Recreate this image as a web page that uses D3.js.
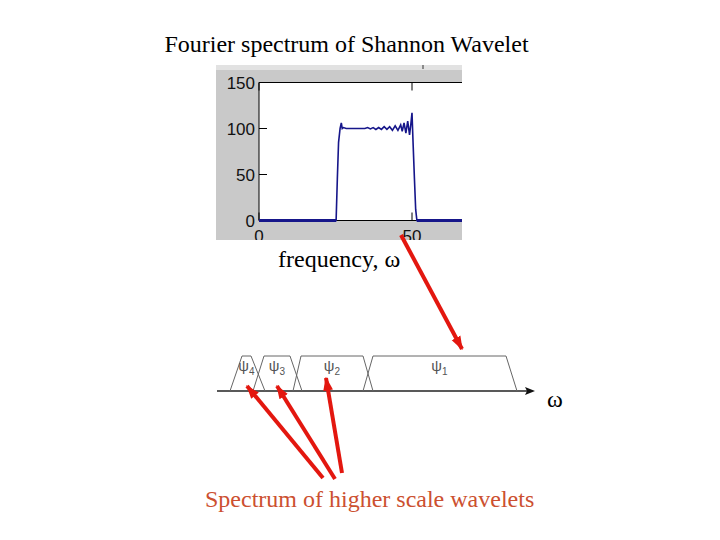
<!DOCTYPE html>
<html>
<head>
<meta charset="utf-8">
<script src="https://cdn.jsdelivr.net/npm/d3@7"></script>
<style>
  body { margin: 0; background: #fff; }
  svg { display: block; }
</style>
</head>
<body>
<svg width="720" height="540"></svg>
<script>
// spectrum
var freq = [0, 25.2, 25.6, 26.0, 26.5, 26.9, 27.2, 27.6, 28.5, 30, 32, 34, 34.6, 35.5, 36.4, 37.3, 38.2, 39.1, 40.0, 40.9, 41.8, 42.7, 43.6, 44.5, 45.4, 46.3, 46.8, 47.4, 48.0, 48.6, 49.2, 49.6, 50.0, 50.4, 50.8, 51.2, 51.6, 67];
var mag = [0, 0, 45, 85, 100, 106, 100, 101, 100, 100, 100, 100, 100, 101, 99.5, 101, 99, 101, 99, 102, 99, 102, 98, 103, 98, 104, 97, 106, 95, 108, 93, 104, 117, 80, 45, 12, 0, 0];
var yTicks = [0, 50, 100, 150];
var xTicks = [0, 50];

// wavelet bands on the omega axis (arbitrary units 0..318)
var bandNames = ["4", "3", "2", "1"];
var bandBottomL = [13, 36, 76, 146];
var bandTopL = [25, 47, 84, 156];
var bandTopR = [34, 73, 146, 289];
var bandBottomR = [48, 85, 156, 300];

var svg = d3.select('svg');
var serif = "'Liberation Serif', 'Times New Roman', serif";
var sans = "'Liberation Sans', Arial, sans-serif";
var red = "#e3170f";

svg.append("text")
    .attr("x", 346.5).attr("y", 52)
    .attr("text-anchor", "middle")
    .style("font-family", serif).style("font-size", "24px")
    .text("Fourier spectrum of Shannon Wavelet");

// ---- matlab screenshot ----
var fig = svg.append("g");
fig.append("clipPath").attr("id", "figclip")
    .append("rect").attr("x", 216).attr("y", 65).attr("width", 246).attr("height", 175);
var g = fig.append("g").attr("clip-path", "url(#figclip)");
g.append("rect").attr("x", 216).attr("y", 65).attr("width", 246).attr("height", 175).style("fill", "#c9c9c9");
g.append("rect").attr("x", 216).attr("y", 65).attr("width", 246).attr("height", 5).style("fill", "#e2e2e2");
g.append("line").attr("x1", 423).attr("x2", 423).attr("y1", 65).attr("y2", 69).style("stroke", "#333");

var x = d3.scaleLinear().domain([0, 50]).range([259, 412]);
var y = d3.scaleLinear().domain([0, 150]).range([220.5, 82.5]);

g.append("rect").attr("x", x(0)).attr("y", y(150)).attr("width", 470 - x(0)).attr("height", y(0) - y(150)).style("fill", "#fff");
g.append("line").attr("x1", x(0)).attr("x2", 470).attr("y1", y(150)).attr("y2", y(150)).style("stroke", "#000");
g.append("line").attr("x1", x(0)).attr("x2", x(0)).attr("y1", y(150)).attr("y2", y(0)).style("stroke", "#000");
g.append("line").attr("x1", x(0)).attr("x2", 470).attr("y1", y(0)).attr("y2", y(0)).style("stroke", "#000");

yTicks.forEach(function(t) {
    g.append("line").attr("x1", x(0)).attr("x2", x(0) + 8).attr("y1", y(t)).attr("y2", y(t)).style("stroke", "#000");
    g.append("text").attr("x", x(0) - 4).attr("y", y(t) + 6)
        .attr("text-anchor", "end")
        .style("font-family", sans).style("font-size", "17px").style("fill", "#111")
        .text(t);
});
xTicks.forEach(function(t) {
    g.append("line").attr("x1", x(t)).attr("x2", x(t)).attr("y1", y(150)).attr("y2", y(150) + 8).style("stroke", "#000");
    g.append("line").attr("x1", x(t)).attr("x2", x(t)).attr("y1", y(0)).attr("y2", y(0) - 8).style("stroke", "#000");
    g.append("text").attr("x", x(t)).attr("y", 242)
        .attr("text-anchor", "middle")
        .style("font-family", sans).style("font-size", "17px").style("fill", "#111")
        .text(t);
});

var line = d3.line()
    .x(function(d, i) { return x(freq[i]); })
    .y(function(d) { return y(d); });
g.append("path").datum(mag)
    .attr("d", line)
    .style("fill", "none")
    .style("stroke", "#16168a")
    .style("stroke-width", 1.6);
// thick zero runs like in the screenshot
g.append("path").datum(mag)
    .attr("d", d3.line().defined(function(d) { return d == 0; })
        .x(function(d, i) { return x(freq[i]); }).y(function(d) { return y(d); }))
    .style("fill", "none").style("stroke", "#16168a").style("stroke-width", 3);

svg.append("text")
    .attr("x", 278).attr("y", 267)
    .style("font-family", serif).style("font-size", "24px")
    .text("frequency, ω");

// ---- band diagram ----
var w = d3.scaleLinear().domain([0, 318]).range([217, 535]);
var baseY = 391, topY = 356;

svg.append("line").attr("x1", w(0)).attr("x2", w(312)).attr("y1", baseY).attr("y2", baseY)
    .style("stroke", "#222").style("stroke-width", 1.5);
svg.append("path")
    .attr("d", "M" + w(318) + "," + baseY + "L" + w(308) + "," + (baseY - 4) + "L" + w(310) + "," + baseY + "L" + w(308) + "," + (baseY + 4) + "Z")
    .style("fill", "#111");

bandNames.forEach(function(n, i) {
    svg.append("path")
        .attr("d", d3.line()([[w(bandBottomL[i]), baseY], [w(bandTopL[i]), topY], [w(bandTopR[i]), topY], [w(bandBottomR[i]), baseY]]))
        .style("fill", "none").style("stroke", "#666").style("stroke-width", 1);
    var cx = w((bandTopL[i] + bandTopR[i]) / 2);
    var t = svg.append("text").attr("x", cx).attr("y", 371)
        .attr("text-anchor", "middle")
        .style("font-family", sans).style("font-size", "15px").style("fill", "#555");
    t.append("tspan").text("ψ");
    t.append("tspan").attr("dy", 4).style("font-size", "10px").text(n);
});

svg.append("text")
    .attr("x", 547).attr("y", 407)
    .style("font-family", serif).style("font-size", "24px")
    .text("ω");

svg.append("text")
    .attr("x", 205).attr("y", 507)
    .style("font-family", serif).style("font-size", "24px").style("fill", "#cc5030")
    .text("Spectrum of higher scale wavelets");

// ---- red pointers ----
var defs = svg.append("defs");
defs.append("marker").attr("id", "head")
    .attr("markerUnits", "userSpaceOnUse")
    .attr("viewBox", "0 0 10 10").attr("refX", 9).attr("refY", 5)
    .attr("markerWidth", 14).attr("markerHeight", 14)
    .attr("orient", "auto")
    .append("path").attr("d", "M0,1.5L10,5L0,8.5Z").style("fill", red);

var arrowFrom = [[401, 235], [323, 478], [335, 479], [342, 473]];
var arrowTo = [[w(245), 349], [w(30), 386], [w(60), 386], [w(109), 378]];
arrowFrom.forEach(function(p, i) {
    svg.append("line")
        .attr("x1", p[0]).attr("y1", p[1])
        .attr("x2", arrowTo[i][0]).attr("y2", arrowTo[i][1])
        .style("stroke", red).style("stroke-width", 4)
        .attr("marker-end", "url(#head)");
});
</script>
</body>
</html>
